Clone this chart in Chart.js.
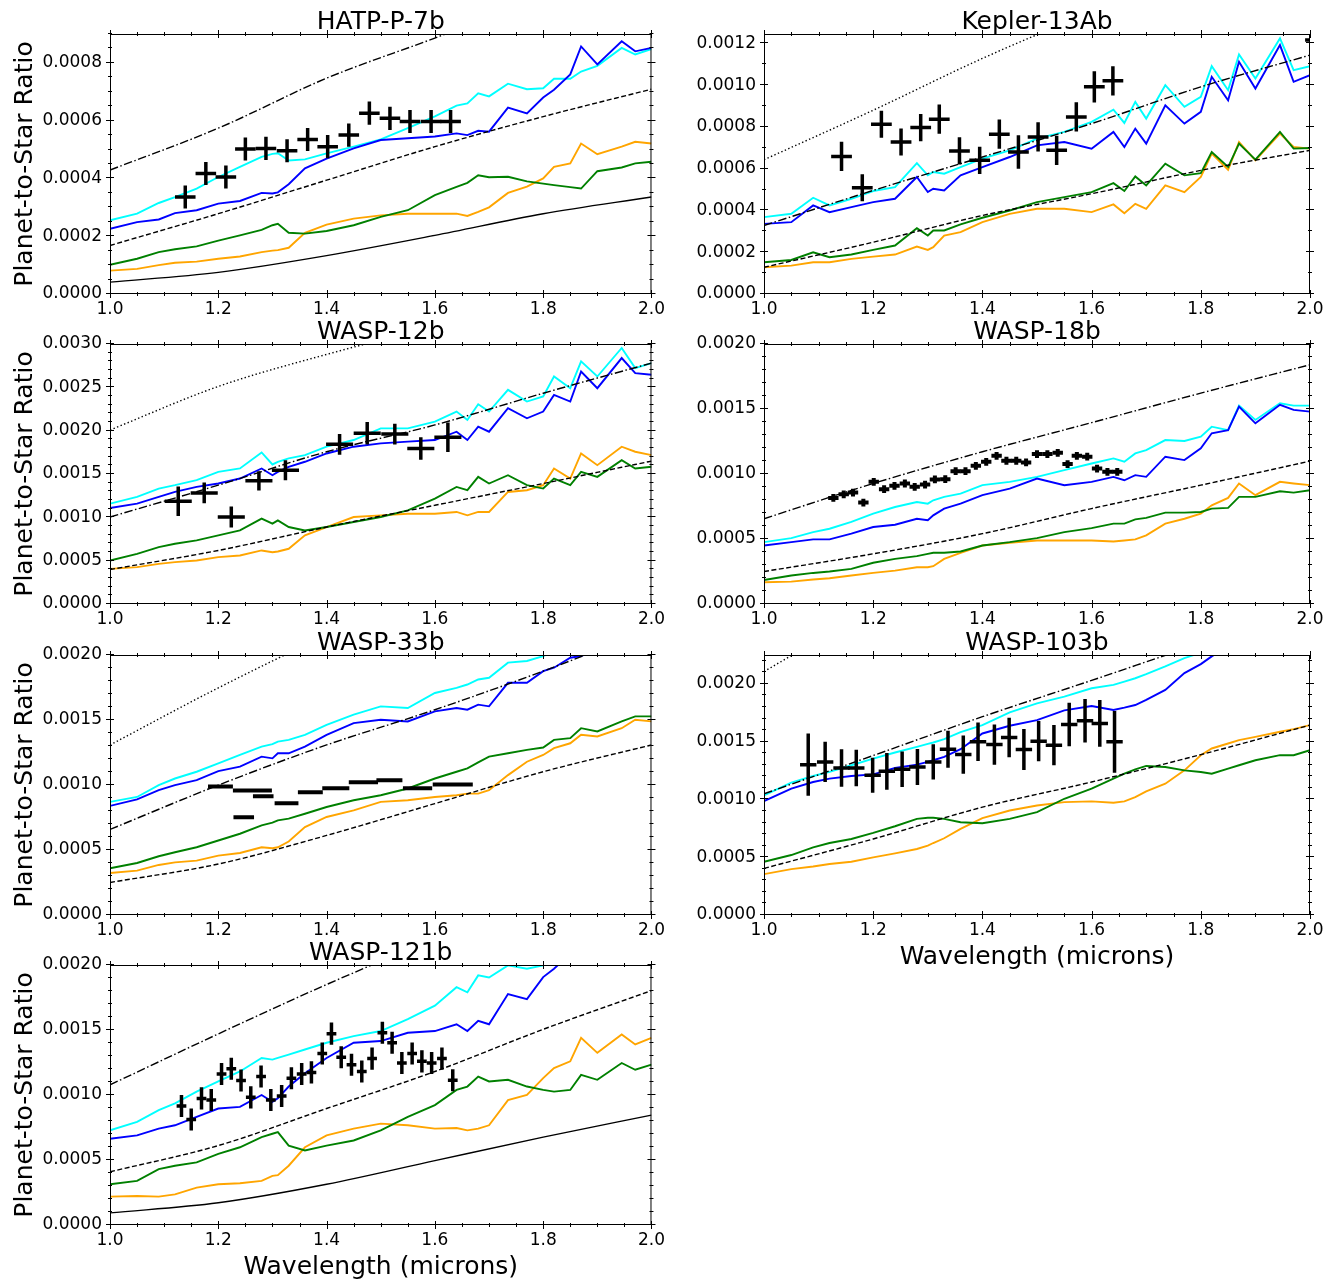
<!DOCTYPE html>
<html>
<head>
<meta charset="utf-8">
<title>Planet-to-Star Ratio</title>
<script src="https://cdn.jsdelivr.net/npm/chart.js@4.4.1/dist/chart.umd.min.js"></script>
<style>
  html, body { margin: 0; padding: 0; background: #fff; }
  body { width: 1335px; height: 1281px; position: relative; overflow: hidden; }
  canvas { position: absolute; }
</style>
</head>
<body>
<script>
// All ratios are in ppm (1e-6); tick labels convert back.
// Wavelength grid for the model spectra (microns)
const WAVE = [1.00, 1.05, 1.09, 1.12, 1.16, 1.20, 1.24, 1.28, 1.30, 1.31, 1.33, 1.36, 1.40, 1.45, 1.50, 1.55,
  1.60, 1.64, 1.66, 1.68, 1.70, 1.735, 1.77, 1.80, 1.82, 1.85, 1.87, 1.90, 1.945, 1.97, 2.00];
// Wavelength grid for the smooth black curves
const BB_WAVE = [1.0, 1.2, 1.4, 1.6, 1.8, 2.0];

// HAT-P-7b
const HATP7_CYAN = [255, 278, 315, 335, 365, 405, 440, 475, 485, 487, 462, 466, 487, 510, 535, 574, 615, 652, 660, 695, 684, 728, 709, 712, 745, 745, 770, 790, 852, 829, 848];
const HATP7_BLUE = [226, 249, 258, 280, 290, 313, 322, 350, 348, 352, 380, 435, 469, 504, 533, 539, 545, 556, 550, 565, 562, 645, 625, 680, 707, 760, 857, 795, 875, 840, 852];
const HATP7_ORANGE = [81, 87, 100, 108, 112, 122, 130, 145, 150, 152, 160, 212, 240, 261, 272, 278, 278, 278, 270, 284, 300, 350, 372, 400, 440, 452, 521, 484, 510, 527, 521];
const HATP7_GREEN = [101, 122, 145, 155, 165, 185, 203, 222, 238, 243, 212, 209, 218, 238, 267, 290, 342, 371, 385, 411, 404, 406, 390, 382, 377, 370, 365, 425, 438, 452, 458];
const HATP7_SOLID = [41, 75, 133, 203, 278, 336];
const HATP7_DASHED = [168, 278, 394, 510, 614, 709];
const HATP7_DASHDOT = [429, 574, 747, 886, 1030, 1160];
const HATP7_OBS_X = [1.139, 1.177, 1.214, 1.250, 1.288, 1.327, 1.365, 1.402, 1.441, 1.479, 1.517, 1.554, 1.593, 1.629];
const HATP7_OBS_Y = [336, 417, 405, 502, 504, 496, 535, 510, 550, 626, 608, 597, 597, 597];

// Kepler-13Ab
const K13_CYAN = [368, 384, 461, 424, 456, 493, 512, 627, 568, 584, 576, 608, 648, 688, 744, 776, 824, 883, 819, 920, 840, 1000, 896, 944, 1091, 976, 1147, 1032, 1224, 1072, 1091];
const K13_BLUE = [336, 344, 424, 392, 416, 440, 456, 560, 488, 504, 496, 568, 608, 656, 712, 728, 696, 776, 704, 792, 720, 904, 816, 872, 1040, 928, 1112, 984, 1192, 1016, 1048];
const K13_ORANGE = [128, 136, 152, 152, 168, 179, 189, 227, 211, 224, 280, 296, 344, 384, 408, 408, 392, 429, 387, 432, 408, 520, 488, 560, 672, 595, 728, 640, 768, 704, 696];
const K13_GREEN = [152, 163, 200, 176, 189, 211, 232, 315, 280, 304, 304, 333, 365, 400, 440, 464, 488, 531, 493, 563, 520, 624, 568, 579, 680, 608, 720, 643, 776, 696, 699];
const K13_DASHED = [128, 248, 376, 480, 592, 688];
const K13_DASHDOT = [328, 496, 656, 816, 992, 1144];
const K13_DOTTED = [643, 880, 1128, 1350, 1560, 1760];
const K13_OBS_X = [1.142, 1.180, 1.215, 1.251, 1.287, 1.321, 1.358, 1.395, 1.431, 1.466, 1.502, 1.536, 1.572, 1.605, 1.639, 2.010];
const K13_OBS_Y = [659, 509, 813, 728, 797, 837, 685, 640, 765, 680, 752, 688, 848, 992, 1021, 1216];
const K13_OBS_YERR = [70, 65, 65, 65, 65, 70, 65, 65, 70, 80, 70, 70, 70, 75, 70, 70];

// WASP-12b
const W12_CYAN = [1158, 1236, 1332, 1371, 1429, 1525, 1564, 1749, 1610, 1641, 1680, 1718, 1815, 1892, 2027, 2027, 2104, 2220, 2124, 2305, 2220, 2471, 2336, 2394, 2625, 2490, 2799, 2625, 2954, 2722, 2780];
const W12_BLUE = [1108, 1158, 1236, 1293, 1351, 1390, 1448, 1564, 1486, 1525, 1583, 1641, 1737, 1815, 1853, 1873, 1892, 1988, 1892, 2046, 1988, 2259, 2143, 2220, 2413, 2336, 2683, 2490, 2838, 2664, 2645];
const W12_ORANGE = [405, 425, 463, 483, 502, 541, 560, 618, 598, 606, 637, 792, 888, 1004, 1023, 1042, 1042, 1062, 1023, 1062, 1062, 1293, 1313, 1371, 1564, 1448, 1737, 1602, 1815, 1757, 1718];
const W12_GREEN = [502, 579, 656, 695, 734, 792, 849, 985, 927, 965, 888, 849, 888, 946, 1004, 1081, 1216, 1351, 1313, 1467, 1390, 1486, 1371, 1332, 1448, 1371, 1525, 1467, 1660, 1564, 1583];
const W12_DASHED = [398, 618, 888, 1139, 1390, 1649];
const W12_DASHDOT = [1004, 1371, 1757, 2066, 2432, 2780];
const W12_DOTTED = [2008, 2510, 2880, 3200, 3500, 3780];
const W12_OBS_X = [1.126, 1.174, 1.224, 1.275, 1.324, 1.424, 1.475, 1.526, 1.574, 1.624];
const W12_OBS_Y = [1185, 1282, 1004, 1421, 1544, 1842, 1969, 1961, 1795, 1923];
const W12_OBS_YERR = [170, 120, 120, 110, 115, 120, 130, 120, 130, 170];

// WASP-18b
const W18_CYAN = [476, 507, 553, 579, 631, 695, 746, 785, 772, 798, 824, 849, 914, 939, 978, 1030, 1081, 1120, 1094, 1158, 1184, 1261, 1254, 1287, 1364, 1338, 1526, 1416, 1544, 1526, 1526];
const W18_BLUE = [450, 476, 497, 497, 541, 592, 610, 656, 644, 682, 734, 772, 837, 888, 965, 914, 939, 978, 952, 991, 978, 1133, 1107, 1197, 1313, 1338, 1518, 1390, 1532, 1493, 1480];
const W18_ORANGE = [167, 172, 188, 198, 219, 239, 257, 283, 283, 291, 347, 394, 450, 471, 489, 489, 489, 481, 489, 497, 528, 618, 656, 695, 759, 816, 927, 837, 940, 927, 914];
const W18_GREEN = [185, 219, 239, 250, 270, 317, 347, 368, 386, 394, 394, 404, 450, 476, 507, 553, 584, 618, 618, 651, 662, 703, 703, 708, 734, 739, 824, 824, 867, 857, 875];
const W18_DASHED = [250, 386, 541, 734, 914, 1099];
const W18_DASHDOT = [656, 927, 1171, 1395, 1622, 1840];
const W18_OBS_X = [1.127, 1.146, 1.163, 1.182, 1.201, 1.220, 1.239, 1.258, 1.276, 1.295, 1.313, 1.332, 1.351, 1.369, 1.388,
  1.407, 1.426, 1.444, 1.462, 1.480, 1.500, 1.519, 1.538, 1.556, 1.573, 1.592, 1.610, 1.629, 1.647];
const W18_OBS_Y = [816, 844, 857, 780, 940, 883, 909, 927, 901, 919, 958, 960, 1022, 1022, 1063,
  1094, 1140, 1102, 1102, 1089, 1153, 1153, 1163, 1076, 1140, 1133, 1042, 1017, 1017];

// WASP-33b
const W33_CYAN = [870, 908, 999, 1050, 1102, 1166, 1231, 1295, 1314, 1334, 1347, 1386, 1463, 1541, 1605, 1592, 1708, 1747, 1773, 1812, 1825, 1941, 1954, 1992, 2030, 2083, 2108, 2134, 2186, 2173, 2199];
const W33_BLUE = [839, 890, 960, 999, 1037, 1107, 1141, 1218, 1205, 1244, 1244, 1295, 1386, 1476, 1502, 1489, 1566, 1592, 1579, 1618, 1605, 1786, 1786, 1876, 1902, 1979, 1992, 2043, 2134, 2160, 2186];
const W33_ORANGE = [323, 341, 385, 405, 418, 457, 477, 521, 514, 521, 565, 676, 754, 805, 870, 883, 908, 921, 934, 934, 960, 1076, 1179, 1231, 1283, 1321, 1386, 1373, 1437, 1502, 1489];
const W33_GREEN = [359, 400, 452, 483, 521, 573, 625, 689, 710, 728, 741, 779, 831, 883, 921, 973, 1050, 1102, 1128, 1174, 1218, 1244, 1270, 1288, 1347, 1360, 1437, 1412, 1489, 1528, 1528];
const W33_DASHED = [250, 392, 612, 857, 1102, 1308];
const W33_DASHDOT = [658, 999, 1308, 1579, 1876, 2200];
const W33_DOTTED = [1308, 1747, 2150, 2500, 2800, 3100];
const W33_OBS_X = [1.204, 1.263, 1.283, 1.247, 1.326, 1.370, 1.417, 1.468, 1.516, 1.568, 1.633];
const W33_OBS_Y = [988, 957, 913, 751, 860, 944, 975, 1022, 1037, 975, 1004];
const W33_OBS_XERR = [0.023, 0.036, 0.019, 0.019, 0.022, 0.023, 0.025, 0.027, 0.024, 0.027, 0.037];

// WASP-103b
const W103_CYAN = [1035, 1145, 1203, 1238, 1296, 1354, 1406, 1455, 1481, 1493, 1522, 1583, 1643, 1754, 1832, 1890, 1962, 1991, 2020, 2049, 2084, 2151, 2223, 2270, 2300, 2340, 2370, 2410, 2470, 2500, 2540];
const W103_BLUE = [986, 1093, 1151, 1180, 1203, 1217, 1272, 1301, 1325, 1339, 1368, 1435, 1571, 1638, 1687, 1771, 1809, 1774, 1794, 1817, 1861, 1948, 2093, 2171, 2238, 2330, 2380, 2450, 2550, 2600, 2650];
const W103_ORANGE = [354, 397, 420, 441, 461, 499, 533, 571, 600, 623, 664, 745, 838, 904, 948, 977, 983, 971, 983, 1020, 1070, 1136, 1252, 1383, 1441, 1484, 1513, 1542, 1586, 1609, 1643];
const W103_GREEN = [461, 519, 586, 623, 658, 710, 768, 832, 841, 841, 832, 803, 794, 832, 890, 1006, 1093, 1180, 1223, 1261, 1290, 1281, 1252, 1238, 1223, 1267, 1296, 1339, 1383, 1383, 1426];
const W103_DASHED = [403, 658, 933, 1151, 1388, 1643];
const W103_DASHDOT = [1049, 1380, 1716, 2030, 2350, 2650];
const W103_DOTTED = [2107, 2650, 3100, 3500, 3850, 4200];
const W103_OBS_X = [1.081, 1.112, 1.142, 1.169, 1.199, 1.225, 1.253, 1.281, 1.310, 1.337, 1.365, 1.392, 1.422, 1.449, 1.476, 1.503, 1.531, 1.559, 1.588, 1.615, 1.642];
const W103_OBS_Y = [1301, 1325, 1272, 1272, 1209, 1243, 1261, 1281, 1325, 1435, 1388, 1499, 1475, 1536, 1432, 1504, 1470, 1649, 1681, 1658, 1499];
const W103_OBS_YERR = [270, 174, 163, 157, 152, 160, 154, 155, 152, 160, 165, 167, 174, 171, 178, 174, 174, 188, 188, 203, 267];

// WASP-121b
const W121_CYAN = [728, 793, 883, 935, 1026, 1104, 1181, 1285, 1272, 1285, 1311, 1350, 1402, 1453, 1492, 1583, 1687, 1829, 1790, 1920, 1904, 1997, 1971, 1997, 2049, 2088, 2140, 2127, 2205, 2166, 2179];
const W121_BLUE = [663, 689, 741, 767, 832, 896, 909, 1000, 948, 974, 1065, 1168, 1285, 1402, 1415, 1479, 1492, 1544, 1492, 1570, 1544, 1777, 1738, 1907, 1971, 2088, 2140, 2192, 2300, 2330, 2360];
const W121_ORANGE = [218, 223, 218, 236, 288, 313, 321, 339, 378, 383, 456, 598, 689, 741, 780, 767, 741, 746, 728, 741, 767, 961, 1000, 1130, 1207, 1259, 1440, 1324, 1466, 1389, 1440];
const W121_GREEN = [313, 339, 430, 456, 482, 547, 598, 676, 702, 715, 611, 573, 611, 650, 728, 832, 922, 1039, 1065, 1142, 1104, 1117, 1065, 1039, 1026, 1039, 1155, 1117, 1246, 1194, 1233];
const W121_SOLID = [93, 171, 313, 495, 676, 845];
const W121_DASHED = [409, 611, 896, 1181, 1505, 1803];
const W121_DASHDOT = [1078, 1470, 1850, 2200, 2520, 2820];
const W121_OBS_X = [1.132, 1.150, 1.169, 1.187, 1.206, 1.224, 1.242, 1.260, 1.279, 1.297, 1.317, 1.335, 1.354, 1.372,
  1.392, 1.409, 1.427, 1.446, 1.465, 1.484, 1.503, 1.521, 1.539, 1.558, 1.576, 1.594, 1.613, 1.633];
const W121_OBS_Y = [915, 811, 974, 961, 1161, 1202, 1111, 982, 1142, 961, 992, 1129, 1161, 1174,
  1319, 1472, 1290, 1233, 1181, 1280, 1479, 1402, 1246, 1319, 1259, 1246, 1280, 1114];

const PANELS = [
  { name: "HATP-P-7b", col: 0, row: 0, yMax: 900, yStep: 200, yMinor: 50,
    cyan: HATP7_CYAN, blue: HATP7_BLUE, orange: HATP7_ORANGE, green: HATP7_GREEN,
    solid: HATP7_SOLID, dashed: HATP7_DASHED, dashdot: HATP7_DASHDOT,
    obsX: HATP7_OBS_X, obsY: HATP7_OBS_Y, xerr: 0.019, yerr: 40, barWidth: 3.5 },
  { name: "Kepler-13Ab", col: 1, row: 0, yMax: 1245, yStep: 200, yMinor: 100,
    cyan: K13_CYAN, blue: K13_BLUE, orange: K13_ORANGE, green: K13_GREEN,
    dashed: K13_DASHED, dashdot: K13_DASHDOT, dotted: K13_DOTTED,
    obsX: K13_OBS_X, obsY: K13_OBS_Y, xerr: 0.019, yerr: K13_OBS_YERR, barWidth: 3.5 },
  { name: "WASP-12b", col: 0, row: 1, yMax: 3000, yStep: 500, yMinor: 100,
    cyan: W12_CYAN, blue: W12_BLUE, orange: W12_ORANGE, green: W12_GREEN,
    dashed: W12_DASHED, dashdot: W12_DASHDOT, dotted: W12_DOTTED,
    obsX: W12_OBS_X, obsY: W12_OBS_Y, xerr: 0.025, yerr: W12_OBS_YERR, barWidth: 3.5 },
  { name: "WASP-18b", col: 1, row: 1, yMax: 2000, yStep: 500, yMinor: 100,
    cyan: W18_CYAN, blue: W18_BLUE, orange: W18_ORANGE, green: W18_GREEN,
    dashed: W18_DASHED, dashdot: W18_DASHDOT,
    obsX: W18_OBS_X, obsY: W18_OBS_Y, xerr: 0.0095, yerr: 30, barWidth: 4 },
  { name: "WASP-33b", col: 0, row: 2, yMax: 2000, yStep: 500, yMinor: 100,
    cyan: W33_CYAN, blue: W33_BLUE, orange: W33_ORANGE, green: W33_GREEN,
    dashed: W33_DASHED, dashdot: W33_DASHDOT, dotted: W33_DOTTED,
    obsX: W33_OBS_X, obsY: W33_OBS_Y, xerr: W33_OBS_XERR, yerr: 0, barWidth: 4 },
  { name: "WASP-103b", col: 1, row: 2, yMax: 2250, yStep: 500, yMinor: 100, xTitle: true,
    cyan: W103_CYAN, blue: W103_BLUE, orange: W103_ORANGE, green: W103_GREEN,
    dashed: W103_DASHED, dashdot: W103_DASHDOT, dotted: W103_DOTTED,
    obsX: W103_OBS_X, obsY: W103_OBS_Y, xerr: 0.015, yerr: W103_OBS_YERR, barWidth: 3.5 },
  { name: "WASP-121b", col: 0, row: 3, yMax: 2000, yStep: 500, yMinor: 100, xTitle: true,
    cyan: W121_CYAN, blue: W121_BLUE, orange: W121_ORANGE, green: W121_GREEN,
    solid: W121_SOLID, dashed: W121_DASHED, dashdot: W121_DASHDOT,
    obsX: W121_OBS_X, obsY: W121_OBS_Y, xerr: 0.009, yerr: 85, barWidth: 3.5 },
];

// page layout (px)
const PLOT_LEFT = [110, 764];
const PLOT_RIGHT = [656, 1310];
const CANVAS_LEFT = [0, 680];
const CANVAS_WIDTH = [670, 655];
const PLOT_TOP = [34, 344, 655, 965];
const PLOT_H = 260;
const TOP_SPACE = 34;
const BOTTOM_SPACE = 60;
const FONT = '"DejaVu Sans"';

function lineSet(xs, values, color, width, dash, smooth) {
  return {
    type: "line",
    data: xs.map((x, i) => ({ x, y: values[i] })),
    borderColor: color,
    borderWidth: width,
    borderDash: dash,
    pointRadius: 0,
    fill: false,
    clip: 0,
    tension: 0,
    cubicInterpolationMode: smooth ? "monotone" : "default",
  };
}

const errorBarPlugin = {
  id: "errorBars",
  afterDatasetsDraw(chart) {
    const { ctx, chartArea: a, scales: { x, y } } = chart;
    ctx.save();
    ctx.beginPath();
    ctx.rect(a.left, a.top, a.right - a.left, a.bottom - a.top);
    ctx.clip();
    ctx.strokeStyle = "#000";
    chart.data.datasets.forEach((ds) => {
      if (!ds.errorBars) return;
      ctx.lineWidth = ds.barWidth;
      ds.data.forEach((p, i) => {
        const xe = Array.isArray(ds.xerr) ? ds.xerr[i] : ds.xerr;
        const ye = Array.isArray(ds.yerr) ? ds.yerr[i] : ds.yerr;
        const px = x.getPixelForValue(p.x);
        const py = y.getPixelForValue(p.y);
        ctx.beginPath();
        ctx.moveTo(x.getPixelForValue(p.x - xe), py);
        ctx.lineTo(x.getPixelForValue(p.x + xe), py);
        if (ye > 0) {
          ctx.moveTo(px, y.getPixelForValue(p.y - ye));
          ctx.lineTo(px, y.getPixelForValue(p.y + ye));
        }
        ctx.stroke();
      });
    });
    ctx.restore();
  },
};

const framePlugin = {
  id: "frame",
  afterDraw(chart) {
    const { ctx, chartArea: a, scales: { x, y } } = chart;
    const opt = chart.options.plugins.frame;
    ctx.save();
    ctx.strokeStyle = "#000";
    ctx.lineWidth = 1;
    ctx.strokeRect(a.left + 0.5, a.top + 0.5, a.right - a.left - 1, a.bottom - a.top - 1);

    const xTick = (v, len) => {
      const px = Math.round(x.getPixelForValue(v)) + 0.5;
      ctx.moveTo(px, a.bottom - len); ctx.lineTo(px, a.bottom + len);
      ctx.moveTo(px, a.top - len); ctx.lineTo(px, a.top + len);
    };
    const yTick = (v, len) => {
      const py = Math.round(y.getPixelForValue(v)) - 0.5;
      ctx.moveTo(a.left - len, py); ctx.lineTo(a.left + len, py);
      ctx.moveTo(a.right - len, py); ctx.lineTo(a.right + len, py);
    };
    ctx.beginPath();
    for (let k = 0; k <= 20; k++) xTick(1 + k * 0.05, 2);
    for (let k = 0; k * opt.yMinor <= opt.yMax; k++) yTick(k * opt.yMinor, 2);
    x.ticks.forEach((t) => xTick(t.value, 4));
    y.ticks.forEach((t) => yTick(t.value, 4));
    ctx.stroke();

    ctx.fillStyle = "#000";
    ctx.font = "25px " + FONT;
    ctx.textAlign = "center";
    ctx.textBaseline = "alphabetic";
    const cx = (a.left + a.right) / 2;
    ctx.fillText(opt.title, cx, a.top - 5);
    if (opt.xTitle) ctx.fillText("Wavelength (microns)", cx, a.bottom + 49);
    if (opt.yTitle) {
      ctx.translate(32, (a.top + a.bottom) / 2);
      ctx.rotate(-Math.PI / 2);
      ctx.fillText("Planet-to-Star Ratio", 0, 0);
    }
    ctx.restore();
  },
};

function buildPanel(p) {
  const canvas = document.createElement("canvas");
  const w = CANVAS_WIDTH[p.col];
  const h = TOP_SPACE + PLOT_H + BOTTOM_SPACE;
  canvas.width = w;
  canvas.height = h;
  canvas.style.left = CANVAS_LEFT[p.col] + "px";
  canvas.style.top = (PLOT_TOP[p.row] - TOP_SPACE) + "px";
  canvas.style.width = w + "px";
  canvas.style.height = h + "px";
  document.body.append(canvas);

  const datasets = [];
  datasets.push({
    type: "scatter",
    data: p.obsX.map((x, i) => ({ x, y: p.obsY[i] })),
    pointRadius: 0,
    showLine: false,
    errorBars: true,
    xerr: p.xerr,
    yerr: p.yerr,
    barWidth: p.barWidth,
  });
  if (p.solid) datasets.push(lineSet(BB_WAVE, p.solid, "#000", 1.4, [], true));
  if (p.dashed) datasets.push(lineSet(BB_WAVE, p.dashed, "#000", 1.4, [5, 2.5], true));
  if (p.dashdot) datasets.push(lineSet(BB_WAVE, p.dashdot, "#000", 1.4, [8.5, 2.5, 1.5, 2.5], true));
  if (p.dotted) datasets.push(lineSet(BB_WAVE, p.dotted, "#000", 1.4, [1.4, 2.4], true));
  datasets.push(lineSet(WAVE, p.green, "#008000", 1.9, [], false));
  datasets.push(lineSet(WAVE, p.orange, "#ffa500", 1.9, [], false));
  datasets.push(lineSet(WAVE, p.blue, "#0000ff", 1.9, [], false));
  datasets.push(lineSet(WAVE, p.cyan, "#00ffff", 1.9, [], false));

  const tickFont = { family: FONT, size: 17 };
  new Chart(canvas, {
    data: { datasets },
    options: {
      responsive: false,
      animation: false,
      events: [],
      layout: {
        autoPadding: false,
        padding: { top: TOP_SPACE, left: 0, bottom: 0, right: w - (PLOT_RIGHT[p.col] - CANVAS_LEFT[p.col]) },
      },
      scales: {
        x: {
          type: "linear",
          min: 1,
          max: 2,
          grid: { display: false, drawTicks: false },
          border: { display: false },
          ticks: { stepSize: 0.2, font: tickFont, color: "#000", padding: 5, maxRotation: 0,
            callback: (v) => v.toFixed(1) },
          afterFit: (s) => { s.height = BOTTOM_SPACE; },
        },
        y: {
          type: "linear",
          min: 0,
          max: p.yMax,
          grid: { display: false, drawTicks: false },
          border: { display: false },
          ticks: { font: tickFont, color: "#000", padding: 8,
            callback: (v) => (v / 1e6).toFixed(4) },
          afterBuildTicks: (s) => {
            const ticks = [];
            for (let k = 0; k * p.yStep <= p.yMax; k++) ticks.push({ value: k * p.yStep });
            s.ticks = ticks;
          },
          afterFit: (s) => { s.width = PLOT_LEFT[p.col] - CANVAS_LEFT[p.col]; },
        },
      },
      plugins: {
        legend: { display: false },
        tooltip: { enabled: false },
        frame: { title: p.name, yMax: p.yMax, yMinor: p.yMinor, xTitle: !!p.xTitle, yTitle: p.col === 0 },
      },
    },
    plugins: [errorBarPlugin, framePlugin],
  });
}

PANELS.forEach(buildPanel);
</script>
</body>
</html>
